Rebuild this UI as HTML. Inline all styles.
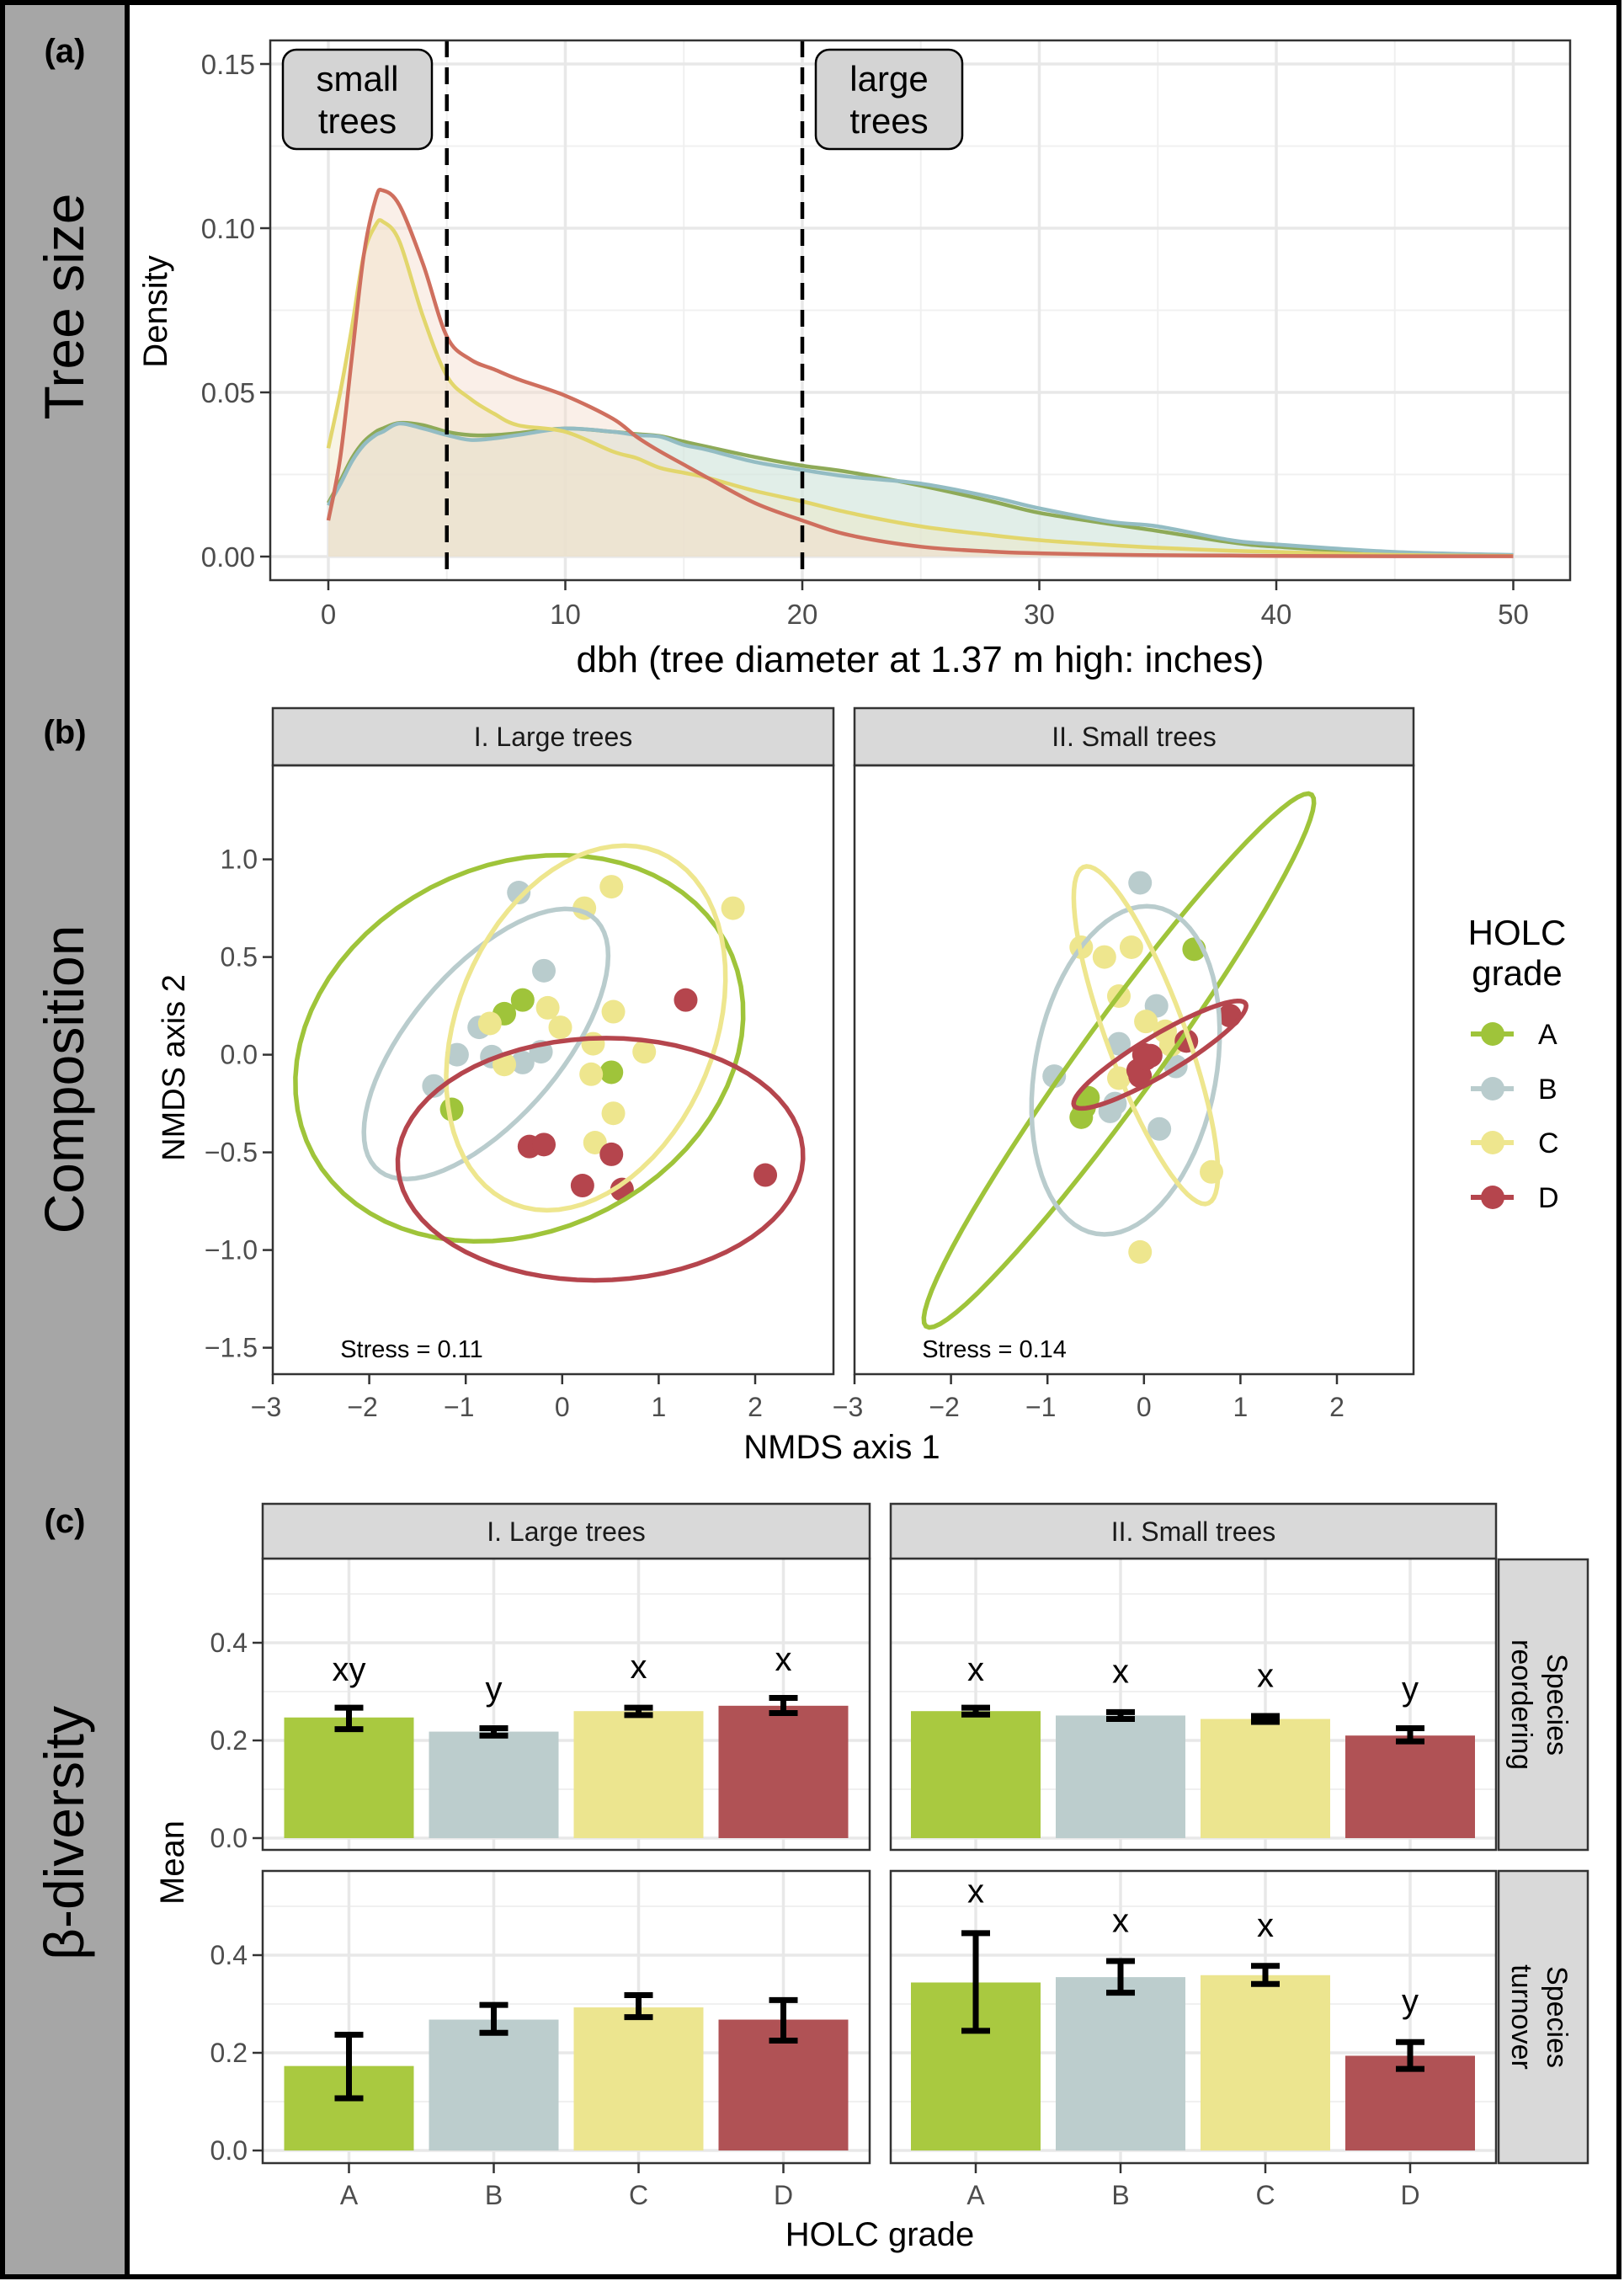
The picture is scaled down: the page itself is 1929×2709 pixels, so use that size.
<!DOCTYPE html>
<html><head><meta charset="utf-8"><style>
html,body{margin:0;padding:0;background:#fff}
svg{display:block}
text{font-family:"Liberation Sans",Arial,sans-serif}
</style></head><body>
<svg id="fig" xmlns="http://www.w3.org/2000/svg" width="1929" height="2709" viewBox="0 0 1929 2709">
<rect x="0" y="0" width="1929" height="2709" fill="#fff"/>
<rect x="4" y="4" width="147" height="2700" fill="#a6a6a6"/>
<line x1="151" y1="4" x2="151" y2="2704" stroke="#000" stroke-width="6"/>
<rect x="3" y="3" width="1920" height="2701" fill="none" stroke="#000" stroke-width="6"/>
<text x="77" y="74" font-size="40" font-weight="bold" text-anchor="middle">(a)</text>
<text x="77" y="883" font-size="40" font-weight="bold" text-anchor="middle">(b)</text>
<text x="77" y="1820" font-size="40" font-weight="bold" text-anchor="middle">(c)</text>
<text transform="translate(99,364) rotate(-90)" font-size="66" text-anchor="middle">Tree size</text>
<text transform="translate(99,1282) rotate(-90)" font-size="66" text-anchor="middle">Composition</text>
<text transform="translate(99,2177) rotate(-90)" font-size="66" text-anchor="middle">β-diversity</text>
<g id="pa"></g><g id="pb"></g><g id="pc"></g>
</svg>
<script>
// ---------- Panel a data ----------
const dbhX = [0,0.5,1,1.5,2,2.3,3,4,5,6,7,8,10,12,13,14,15,16,18,20,22,25,28,30,33,35,38,40,45,50];
const densA = [.0163,.023,.030,.035,.038,.039,.0407,.040,.038,.037,.037,.0376,.039,.038,.0373,.0367,.035,.0334,.0303,.0277,.0257,.0216,.0168,.0133,.0099,.0078,.0044,.003,.001,.0003];
const densB = [.0156,.022,.029,.034,.037,.038,.0405,.039,.037,.0355,.036,.037,.039,.038,.037,.0365,.034,.0325,.0288,.0264,.0243,.0222,.0181,.0147,.0106,.0092,.0051,.0037,.0014,.0005];
const densC = [.033,.050,.070,.092,.101,.102,.096,.073,.055,.048,.0435,.040,.038,.032,.030,.027,.0255,.024,.020,.0168,.0133,.0092,.0065,.005,.0035,.0027,.0018,.0014,.0005,.0002];
const densD = [.011,.030,.061,.092,.109,.1115,.107,.089,.067,.060,.057,.054,.049,.042,.0365,.032,.028,.024,.0163,.011,.0065,.003,.0015,.001,.0006,.0004,.0003,.0002,.0001,.0001];
const aXTicks = [0,10,20,30,40,50];
const aYTicks = [0,0.05,0.10,0.15];
const aYTickLabels = ["0.00","0.05","0.10","0.15"];
const cutoffs = [5,20];

// ---------- Panel b data ----------
const grades = ["A","B","C","D"];
const nmdsLargeA = [[-0.41,0.28],[-0.60,0.21],[0.51,-0.09],[-1.145,-0.28]];
const nmdsLargeB = [[-0.45,0.83],[-0.19,0.43],[-0.86,0.14],[-1.09,0.0],[-0.73,-0.01],[-0.41,-0.04],[-0.22,0.015],[-1.33,-0.16]];
const nmdsLargeC = [[0.51,0.86],[0.23,0.75],[1.77,0.75],[-0.15,0.24],[-0.75,0.16],[-0.02,0.14],[0.53,0.22],[0.32,0.056],[0.85,0.015],[-0.6,-0.05],[0.30,-0.10],[0.53,-0.30],[0.34,-0.45]];
const nmdsLargeD = [[1.28,0.28],[-0.34,-0.47],[-0.19,-0.46],[0.51,-0.51],[0.21,-0.67],[0.62,-0.69],[2.105,-0.616]];
const nmdsSmallA = [[0.52,0.54],[-0.58,-0.22],[-0.65,-0.32],[-0.62,-0.27]];
const nmdsSmallB = [[-0.04,0.88],[0.13,0.25],[-0.26,0.056],[-0.93,-0.11],[0.33,-0.06],[-0.35,-0.29],[0.16,-0.38],[-0.30,-0.25]];
const nmdsSmallC = [[-0.65,0.55],[-0.41,0.50],[-0.13,0.55],[-0.26,0.30],[0.02,0.17],[0.22,0.12],[-0.26,-0.12],[0.70,-0.60],[-0.04,-1.01],[0.28,0.05]];
const nmdsSmallD = [[0.0,0.0],[0.07,-0.005],[-0.04,-0.11],[0.44,0.07],[0.89,0.20],[-0.06,-0.08],[0.02,-0.02]];
// ellipses: center, conjugate semi-axis vectors (data units)
const ellLargeCenter = [[-0.445,0.033],[-0.79,0.055],[0.245,0.137],[0.396,-0.535]];
const ellLargeU = [[2.305,0.063],[1.15,0.63],[0.28,0.93],[2.1,0.0]];
const ellLargeV = [[0.275,0.987],[-0.53,0.285],[1.42,0.08],[0.06,0.62]];
const ellSmallCenter = [[-0.26,-0.03],[-0.19,-0.08],[0.02,0.10],[0.165,0.0]];
const ellSmallU = [[2.0,1.36],[0.22,0.84],[-0.65,0.86],[0.89,0.26]];
const ellSmallV = [[0.30,-0.134],[0.95,0.0],[0.37,0.085],[0.09,-0.09]];
const bXTicks = [-3,-2,-1,0,1,2];
const bYTicks = [-1.5,-1.0,-0.5,0.0,0.5,1.0];
const stressVals = ["0.11","0.14"];

// ---------- Panel c data ----------
const reorderLargeMean = [0.247,0.218,0.26,0.271];
const reorderLargeLo = [0.223,0.21,0.252,0.256];
const reorderLargeHi = [0.267,0.225,0.267,0.287];
const reorderLargeLetters = ["xy","y","x","x"];
const reorderLargeLetterY = [0.34,0.30,0.345,0.36];
const reorderSmallMean = [0.26,0.251,0.244,0.21];
const reorderSmallLo = [0.253,0.244,0.238,0.198];
const reorderSmallHi = [0.267,0.258,0.25,0.225];
const reorderSmallLetters = ["x","x","x","y"];
const reorderSmallLetterY = [0.34,0.335,0.327,0.30];
const turnLargeMean = [0.173,0.268,0.293,0.268];
const turnLargeLo = [0.107,0.241,0.273,0.225];
const turnLargeHi = [0.237,0.298,0.318,0.308];
const turnSmallMean = [0.344,0.355,0.359,0.194];
const turnSmallLo = [0.245,0.323,0.341,0.167];
const turnSmallHi = [0.445,0.388,0.378,0.222];
const turnSmallLetters = ["x","x","x","y"];
const turnSmallLetterY = [0.525,0.465,0.455,0.30];
const cYTicks = [0,0.2,0.4];
const cYTickLabels = ["0.0","0.2","0.4"];

const NS="http://www.w3.org/2000/svg";
function mk(parent,tag,attrs,txt){const e=document.createElementNS(NS,tag);for(const k in attrs)e.setAttribute(k,attrs[k]);if(txt!==undefined)e.textContent=txt;parent.appendChild(e);return e;}
function smooth(pts){let d="M"+pts[0][0].toFixed(1)+","+pts[0][1].toFixed(1);for(let i=0;i<pts.length-1;i++){const p0=pts[Math.max(0,i-1)],p1=pts[i],p2=pts[i+1],p3=pts[Math.min(pts.length-1,i+2)];const c1=[p1[0]+(p2[0]-p0[0])/6,p1[1]+(p2[1]-p0[1])/6],c2=[p2[0]-(p3[0]-p1[0])/6,p2[1]-(p3[1]-p1[1])/6];d+=" C"+c1[0].toFixed(1)+","+c1[1].toFixed(1)+" "+c2[0].toFixed(1)+","+c2[1].toFixed(1)+" "+p2[0].toFixed(1)+","+p2[1].toFixed(1);}return d;}

// ===== Panel a =====
(function(){
const g=document.getElementById('pa');
const L=321,T=48,R=1865,B=689;
const xs=x=>390+x*28.15, ys=y=>661-y*3900;
mk(g,'rect',{x:L,y:T,width:R-L,height:B-T,fill:'#fff'});
for(let v=5;v<=45;v+=10){const l=mk(g,'line',{x1:xs(v),x2:xs(v),y1:T,y2:B,stroke:'#f0f0f0','stroke-width':2});}
for(let v=0.025;v<0.16;v+=0.05){mk(g,'line',{x1:L,x2:R,y1:ys(v),y2:ys(v),stroke:'#f0f0f0','stroke-width':2});}
aXTicks.forEach(v=>{mk(g,'line',{x1:xs(v),x2:xs(v),y1:T,y2:B,stroke:'#e8e8e8','stroke-width':3.5});});
aYTicks.forEach(v=>{mk(g,'line',{x1:L,x2:R,y1:ys(v),y2:ys(v),stroke:'#e8e8e8','stroke-width':3.5});});
const series=[[densA,'#8eaa58'],[densB,'#93bcc3'],[densC,'#e2d66c'],[densD,'#cf6f5e']];
const fills=['#d6e7cf','#d2e6e6','#efe6c4','#f4dccd'];
series.forEach((s,i)=>{
  const pts=dbhX.map((x,j)=>[xs(x),ys(s[0][j])]);
  const d=smooth(pts);
  const f=mk(g,'path',{d:d+" L"+xs(50)+","+ys(0)+" L"+xs(0)+","+ys(0)+" Z",fill:fills[i],'fill-opacity':0.45,stroke:'none'});
  
  
});
series.forEach((s,i)=>{
  const pts=dbhX.map((x,j)=>[xs(x),ys(s[0][j])]);
  const p=mk(g,'path',{d:smooth(pts),fill:'none',stroke:s[1],'stroke-width':4.5});
  
  
});
cutoffs.forEach(c=>{const l=mk(g,'line',{x1:xs(c),x2:xs(c),y1:T,y2:B,stroke:'#000','stroke-width':4.5,'stroke-dasharray':'20 12'});
  
  });
mk(g,'rect',{x:L,y:T,width:R-L,height:B-T,fill:'none',stroke:'#333','stroke-width':2.5});
aXTicks.forEach(v=>{mk(g,'line',{x1:xs(v),x2:xs(v),y1:B,y2:B+12,stroke:'#333','stroke-width':2.5});
  const t=mk(g,'text',{x:xs(v),y:741,'font-size':33,fill:'#4d4d4d','text-anchor':'middle'},String(v));
  
  });
aYTicks.forEach((v,i)=>{mk(g,'line',{x1:L-12,x2:L,y1:ys(v),y2:ys(v),stroke:'#333','stroke-width':2.5});
  const t=mk(g,'text',{x:L-18,y:ys(v)+12,'font-size':33,fill:'#4d4d4d','text-anchor':'end'},aYTickLabels[i]);
  
  });
const yt=mk(g,'text',{transform:'translate(198,370) rotate(-90)','font-size':40,'text-anchor':'middle'},'Density');


const xt=mk(g,'text',{x:1093,y:798,'font-size':44,'text-anchor':'middle'},'dbh (tree diameter at 1.37 m high: inches)');


[[336,513,'small','small-trees-label'],[969,1143,'large','large-trees-label']].forEach(b=>{
  const r=mk(g,'rect',{x:b[0],y:59,width:b[1]-b[0],height:118,rx:16,fill:'#d4d4d4',stroke:'#000','stroke-width':2.5});
  
  
  const cx=(b[0]+b[1])/2;
  mk(g,'text',{x:cx,y:108,'font-size':42,'text-anchor':'middle'},b[2]);
  mk(g,'text',{x:cx,y:158,'font-size':42,'text-anchor':'middle'},'trees');
});
})();

// ===== Panel b =====
(function(){
const g=document.getElementById('pb');
const cols=['#9fc43a','#b9cccd','#eee68e','#b5454d'];
const T=909,B=1632;
const ys=y=>1252.6-y*232;
const panels=[{L:324,R:990,name:'I. Large trees',pts:[nmdsLargeA,nmdsLargeB,nmdsLargeC,nmdsLargeD],ec:ellLargeCenter,eu:ellLargeU,ev:ellLargeV,stress:stressVals[0],tag:'large'},
              {L:1015,R:1679,name:'II. Small trees',pts:[nmdsSmallA,nmdsSmallB,nmdsSmallC,nmdsSmallD],ec:ellSmallCenter,eu:ellSmallU,ev:ellSmallV,stress:stressVals[1],tag:'small'}];
panels.forEach((p,pi)=>{
  const xs=x=>p.L+(x+3)*114.6;
  const s=mk(g,'rect',{x:p.L,y:841,width:p.R-p.L,height:68,fill:'#d9d9d9',stroke:'#333','stroke-width':2.5});
  
  
  mk(g,'text',{x:(p.L+p.R)/2,y:886,'font-size':32,fill:'#1a1a1a','text-anchor':'middle'},p.name);
  const clipId='clipb'+pi;
  const cp=mk(g,'clipPath',{id:clipId});mk(cp,'rect',{x:p.L,y:T,width:p.R-p.L,height:B-T});
  const inner=mk(g,'g',{'clip-path':'url(#'+clipId+')'});
  p.pts.forEach((arr,gi)=>{arr.forEach(pt=>{const c=mk(inner,'circle',{cx:xs(pt[0]),cy:ys(pt[1]),r:14,fill:cols[gi]});
    
    });});
  p.ec.forEach((c,gi)=>{let d='';for(let k=0;k<=72;k++){const t=k/72*2*Math.PI;const x=c[0]+Math.cos(t)*p.eu[gi][0]+Math.sin(t)*p.ev[gi][0];const y=c[1]+Math.cos(t)*p.eu[gi][1]+Math.sin(t)*p.ev[gi][1];d+=(k?'L':'M')+xs(x).toFixed(1)+','+ys(y).toFixed(1);}
    const e=mk(inner,'path',{d:d+'Z',fill:'none',stroke:cols[gi],'stroke-width':5.5});
    
    });
  mk(g,'rect',{x:p.L,y:T,width:p.R-p.L,height:B-T,fill:'none',stroke:'#333','stroke-width':2.5});
  mk(g,'text',{x:xs(-2.3),y:1612,'font-size':29},'Stress = '+p.stress);
  bXTicks.forEach(v=>{mk(g,'line',{x1:xs(v),x2:xs(v),y1:B,y2:B+12,stroke:'#333','stroke-width':2.5});
    const t=mk(g,'text',{x:xs(v)-(v<0?8:0),y:1682,'font-size':32,fill:'#4d4d4d','text-anchor':'middle'},(v<0?'\u2212'+Math.abs(v):String(v)));
    
    });
  if(pi===0){bYTicks.forEach(v=>{mk(g,'line',{x1:p.L-12,x2:p.L,y1:ys(v),y2:ys(v),stroke:'#333','stroke-width':2.5});
    const lab=(v<0?'\u2212':'')+Math.abs(v).toFixed(1);
    const t=mk(g,'text',{x:p.L-18,y:ys(v)+11,'font-size':32,fill:'#4d4d4d','text-anchor':'end'},lab);
    
    });}
});
const yt=mk(g,'text',{transform:'translate(219,1268) rotate(-90)','font-size':38,'text-anchor':'middle'},'NMDS axis 2');


const xt=mk(g,'text',{x:1000,y:1732,'font-size':40,'text-anchor':'middle'},'NMDS axis 1');


mk(g,'text',{x:1802,y:1122,'font-size':42,'text-anchor':'middle'},'HOLC');
mk(g,'text',{x:1802,y:1170,'font-size':42,'text-anchor':'middle'},'grade');
const ly=[1228,1293,1357,1422];
grades.forEach((gr,i)=>{const lg=mk(g,'g',{});
  
  
  mk(lg,'line',{x1:1747,x2:1798,y1:ly[i],y2:ly[i],stroke:cols[i],'stroke-width':6});
  mk(lg,'circle',{cx:1773,cy:ly[i],r:14,fill:cols[i]});
  mk(lg,'text',{x:1827,y:ly[i]+12,'font-size':34},gr);});
})();

// ===== Panel c =====
(function(){
const g=document.getElementById('pc');
const cols=['#a9c940','#bccdcd','#ece58f','#b05255'];
const cells=[{L:312,R:1033,T:1851,B:2197,z:2183,m:reorderLargeMean,lo:reorderLargeLo,hi:reorderLargeHi,let:reorderLargeLetters,ly:reorderLargeLetterY,c0:414.5,tag:'reorder-large'},
 {L:1058,R:1777,T:1851,B:2197,z:2183,m:reorderSmallMean,lo:reorderSmallLo,hi:reorderSmallHi,let:reorderSmallLetters,ly:reorderSmallLetterY,c0:1159,tag:'reorder-small'},
 {L:312,R:1033,T:2222,B:2569,z:2554,m:turnLargeMean,lo:turnLargeLo,hi:turnLargeHi,let:null,ly:null,c0:414.5,tag:'turnover-large'},
 {L:1058,R:1777,T:2222,B:2569,z:2554,m:turnSmallMean,lo:turnSmallLo,hi:turnSmallHi,let:turnSmallLetters,ly:turnSmallLetterY,c0:1159,tag:'turnover-small'}];
cells.forEach((c,ci)=>{
  const ys=v=>c.z-v*580, xs=i=>c.c0+i*172;
  for(let v=0.1;v<0.6;v+=0.2)mk(g,'line',{x1:c.L,x2:c.R,y1:ys(v),y2:ys(v),stroke:'#f0f0f0','stroke-width':2});
  cYTicks.forEach(v=>mk(g,'line',{x1:c.L,x2:c.R,y1:ys(v),y2:ys(v),stroke:'#e8e8e8','stroke-width':3.5}));
  grades.forEach((gr,i)=>mk(g,'line',{x1:xs(i),x2:xs(i),y1:c.T,y2:c.B,stroke:'#e8e8e8','stroke-width':3.5}));
  grades.forEach((gr,i)=>{
    const b=mk(g,'rect',{x:xs(i)-77,y:ys(c.m[i]),width:154,height:ys(0)-ys(c.m[i]),fill:cols[i]});
    
    
    const e=mk(g,'path',{d:'M'+(xs(i)-17)+','+ys(c.hi[i])+'H'+(xs(i)+17)+'M'+xs(i)+','+ys(c.hi[i])+'V'+ys(c.lo[i])+'M'+(xs(i)-17)+','+ys(c.lo[i])+'H'+(xs(i)+17),stroke:'#000','stroke-width':7,fill:'none'});
    
    
    if(c.let){const t=mk(g,'text',{x:xs(i),y:ys(c.ly[i])+10,'font-size':40,'text-anchor':'middle'},c.let[i]);
      
      }
  });
  mk(g,'rect',{x:c.L,y:c.T,width:c.R-c.L,height:c.B-c.T,fill:'none',stroke:'#333','stroke-width':2.5});
  if(c.L<400){cYTicks.forEach((v,i)=>{mk(g,'line',{x1:c.L-12,x2:c.L,y1:ys(v),y2:ys(v),stroke:'#333','stroke-width':2.5});
    const t=mk(g,'text',{x:c.L-18,y:ys(v)+11,'font-size':32,fill:'#4d4d4d','text-anchor':'end'},cYTickLabels[i]);
    
    });}
  if(ci>=2){grades.forEach((gr,i)=>{mk(g,'line',{x1:xs(i),x2:xs(i),y1:c.B,y2:c.B+12,stroke:'#333','stroke-width':2.5});
    const t=mk(g,'text',{x:xs(i),y:2618,'font-size':32,fill:'#4d4d4d','text-anchor':'middle'},gr);
    
    });}
});
[[312,1033,'I. Large trees'],[1058,1777,'II. Small trees']].forEach(s=>{
  const r=mk(g,'rect',{x:s[0],y:1786,width:s[1]-s[0],height:65,fill:'#d9d9d9',stroke:'#333','stroke-width':2.5});
  
  
  mk(g,'text',{x:(s[0]+s[1])/2,y:1830,'font-size':32,fill:'#1a1a1a','text-anchor':'middle'},s[2]);});
[[1852,2197,'Species','reordering'],[2222,2569,'Species','turnover']].forEach(s=>{
  const r=mk(g,'rect',{x:1780,y:s[0],width:106,height:s[1]-s[0],fill:'#d9d9d9',stroke:'#333','stroke-width':2.5});
  
  
  const cy=(s[0]+s[1])/2;
  mk(g,'text',{transform:'translate(1838,'+cy+') rotate(90)','font-size':34,'text-anchor':'middle'},s[2]);
  mk(g,'text',{transform:'translate(1796,'+cy+') rotate(90)','font-size':34,'text-anchor':'middle'},s[3]);});
const yt=mk(g,'text',{transform:'translate(218,2212) rotate(-90)','font-size':40,'text-anchor':'middle'},'Mean');


const xt=mk(g,'text',{x:1045,y:2667,'font-size':40,'text-anchor':'middle'},'HOLC grade');


})();
</script>
</body></html>
